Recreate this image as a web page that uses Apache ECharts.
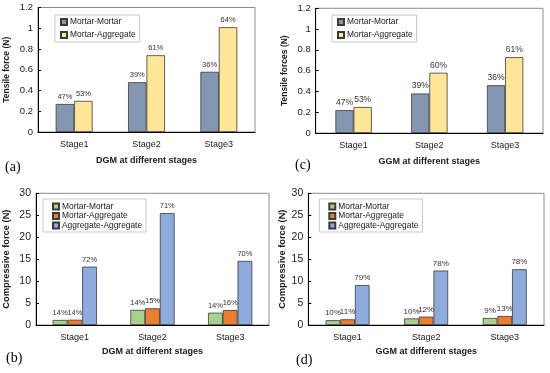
<!DOCTYPE html>
<html><head><meta charset="utf-8">
<script src="https://cdn.jsdelivr.net/npm/echarts@6/dist/echarts.min.js"></script>
<style>html,body{margin:0;padding:0;background:#fff}#c{width:550px;height:373px}</style>
</head><body><div id="c"></div>
<script>
const categories = ['Stage1','Stage2','Stage3'];
// (a) DGM tensile
const aMortarMortar = [0.27, 0.48, 0.58];
const aMortarAggregate = [0.30, 0.74, 1.01];
const aPctMM = ['47%','39%','36%'];
const aPctMA = ['53%','61%','64%'];
// (c) GGM tensile
const cMortarMortar = [0.22, 0.38, 0.46];
const cMortarAggregate = [0.25, 0.58, 0.73];
const cPctMM = ['47%','39%','36%'];
const cPctMA = ['53%','60%','61%'];
// (b) DGM compressive
const bMortarMortar = [1.15, 3.45, 2.8];
const bMortarAggregate = [1.2, 3.8, 3.4];
const bAggAgg = [13.3, 25.5, 14.6];
const bPctMM = ['14%','14%','14%'];
const bPctMA = ['14%','15%','16%'];
const bPctAA = ['72%','71%','70%'];
// (d) GGM compressive
const dMortarMortar = [1.1, 1.5, 1.6];
const dMortarAggregate = [1.3, 1.9, 2.05];
const dAggAgg = [9.1, 12.4, 12.7];
const dPctMM = ['10%','10%','9%'];
const dPctMA = ['11%','12%','13%'];
const dPctAA = ['79%','78%','78%'];
const tensileTicks = {min:0, max:1.2, interval:0.2};
const compTicks = {min:0, max:30, interval:5};

const font = 'Liberation Sans, Arial, sans-serif';
const txt = '#1a1a1a';
const C = {slate:'#8497B0', yellow:'#FFE699', green:'#A9D18E', orange:'#ED7D31', blue:'#8FAADC'};

const grids = [
  {left:38, top:7.5, width:217, height:124.5},
  {left:315.7, top:8.3, width:227.3, height:124.7},
  {left:36, top:193.3, width:233, height:131.7},
  {left:308.3, top:193.3, width:235.7, height:131.7}
];
const xTitles = ['DGM at different stages','GGM at different stages','DGM at different stages','GGM at different stages'];
const yTitles = ['Tensile force (N)','Tensile forces (N)','Compressive force (N)','Compressive force (N)'];
const yGaps = [27, 27, 25, 21.5];
const yTitleSize = [8.5, 8.5, 9.3, 9.3];
const tickSize = [9.5, 9.5, 10.5, 10.5];

const xAxis = grids.map((g,i)=>({
  type:'category', gridIndex:i, data:categories,
  axisLine:{lineStyle:{color:'#000', width:1}}, axisTick:{show:false},
  axisLabel:{color:txt, fontSize:9, fontFamily:font, margin:8},
  name:xTitles[i], nameLocation:'middle', nameGap:i<2?24:22,
  nameTextStyle:{color:txt, fontSize:9, fontWeight:'bold', fontFamily:font}
}));
const yAxis = grids.map((g,i)=>Object.assign({
  type:'value', gridIndex:i,
  axisLine:{show:true, lineStyle:{color:'#000', width:1}},
  axisTick:{show:true, inside:true, length:3, lineStyle:{color:'#000'}},
  splitLine:{show:false},
  axisLabel:{color:txt, fontSize:tickSize[i], fontFamily:font, margin:5},
  name:yTitles[i], nameLocation:'middle', nameGap:yGaps[i],
  nameTextStyle:{color:txt, fontSize:yTitleSize[i], fontWeight:'bold', fontFamily:font}
}, i<2?tensileTicks:compTicks));

function bar(id, name, idx, data, pct, color, gap, lsize){
  return {
    type:'bar', name:id+'|'+name, xAxisIndex:idx, yAxisIndex:idx, data:data,
    barGap:'0%', barCategoryGap:gap,
    itemStyle:{color:color, borderColor:'#3a3a3a', borderWidth:0.8},
    label:{show:true, position:'top', distance:3, fontSize:lsize, fontFamily:font, color:'#333',
      formatter:p=>pct[p.dataIndex]}
  };
}
const series = [
  bar('a','Mortar-Mortar',0,aMortarMortar,aPctMM,C.slate,'49%',7.5),
  bar('a','Mortar-Aggregate',0,aMortarAggregate,aPctMA,C.yellow,'49%',7.5),
  bar('c','Mortar-Mortar',1,cMortarMortar,cPctMM,C.slate,'52%',8.5),
  bar('c','Mortar-Aggregate',1,cMortarAggregate,cPctMA,C.yellow,'52%',8.5),
  bar('b','Mortar-Mortar',2,bMortarMortar,bPctMM,C.green,'43%',7.5),
  bar('b','Mortar-Aggregate',2,bMortarAggregate,bPctMA,C.orange,'43%',7.5),
  bar('b','Aggregate-Aggregate',2,bAggAgg,bPctAA,C.blue,'43%',7.5),
  bar('d','Mortar-Mortar',3,dMortarMortar,dPctMM,C.green,'44%',8),
  bar('d','Mortar-Aggregate',3,dMortarAggregate,dPctMA,C.orange,'44%',8),
  bar('d','Aggregate-Aggregate',3,dAggAgg,dPctAA,C.blue,'44%',8)
];
function legend(id, names, left, top, gap, pad){
  return {
    data:names.map(n=>({name:id+'|'+n, icon:'rect'})), left:left, top:top, orient:'vertical',
    itemWidth:6, itemHeight:6, itemGap:gap, padding:pad,
    borderColor:'#c8c8c8', borderWidth:1, selectedMode:false,
    formatter:n=>n.split('|')[1],
    textStyle:{color:txt, fontSize:8.4, fontFamily:font, padding:[0,0,0,-2]}
  };
}
const two = ['Mortar-Mortar','Mortar-Aggregate'];
const three = ['Mortar-Mortar','Mortar-Aggregate','Aggregate-Aggregate'];
const legends = [
  legend('a',two,55,15,5,[3,4,3,5]),
  legend('c',two,332,15,5,[3,4,3,5]),
  legend('b',three,43,199,1.5,[3.5,4,2.5,9]),
  legend('d',three,319.3,199,1.5,[3.5,4,2.5,9])
];
const serif = 'Liberation Serif, Times New Roman, serif';
const panelLabels = [['(a)',5,160],['(c)',295,158],['(b)',6,351],['(d)',296,353]];
const chart = echarts.init(document.getElementById('c'), null, {renderer:'canvas'});
chart.setOption({
  animation:false, backgroundColor:'#fff',
  grid:grids.map(g=>Object.assign({show:true, borderColor:'#8c8c8c', borderWidth:1, containLabel:false}, g)),
  xAxis:xAxis, yAxis:yAxis, series:series, legend:legends,
  graphic:panelLabels.map(p=>({type:'text', left:p[1], top:p[2],
    style:{text:p[0], fontSize:14, fontFamily:serif, fill:'#000'}}))
});
</script></body></html>
